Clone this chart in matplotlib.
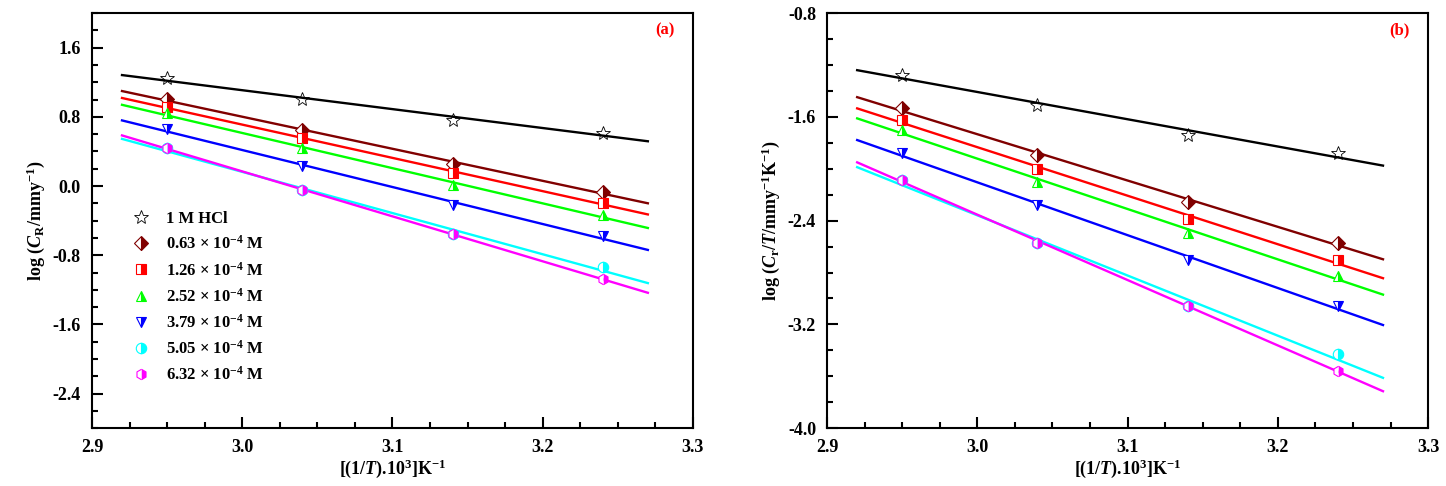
import matplotlib
matplotlib.use("Agg")
import matplotlib.pyplot as plt
from matplotlib.ticker import MultipleLocator, FormatStrFormatter
import numpy as np

plt.rcParams['font.family'] = ['Liberation Serif', 'DejaVu Serif']
plt.rcParams['font.weight'] = 'bold'
plt.rcParams['axes.labelweight'] = 'bold'
plt.rcParams['mathtext.fontset'] = 'custom'
plt.rcParams['mathtext.rm'] = 'Liberation Serif:bold'
plt.rcParams['mathtext.it'] = 'Liberation Serif:bold:italic'
plt.rcParams['mathtext.bf'] = 'Liberation Serif:bold'
plt.rcParams['axes.unicode_minus'] = False

# 1/T * 10^3 (K^-1)
inv_t = [2.95, 3.04, 3.14, 3.24]
fit_range = [2.92, 3.27]

labels = ['1 M HCl',
          r'0.63 $\times$ 10$^{-4}$ M',
          r'1.26 $\times$ 10$^{-4}$ M',
          r'2.52 $\times$ 10$^{-4}$ M',
          r'3.79 $\times$ 10$^{-4}$ M',
          r'5.05 $\times$ 10$^{-4}$ M',
          r'6.32 $\times$ 10$^{-4}$ M']
colors = ['black', '#800000', 'red', '#00ff00', 'blue', 'cyan', 'magenta']
markers = ['*', 'D', 's', '^', 'v', 'o', 'h']

# (a) log CR
log_cr = [
    [1.245, 1.002, 0.762, 0.616],
    [1.002, 0.647, 0.254, -0.067],
    [0.916, 0.551, 0.146, -0.194],
    [0.840, 0.435, 0.011, -0.336],
    [0.655, 0.230, -0.221, -0.580],
    [0.435, -0.047, -0.556, -0.938],
    [0.435, -0.047, -0.556, -1.077],
]

# (b) log CR/T
log_cr_t = [
    [-1.278, -1.509, -1.741, -1.882],
    [-1.535, -1.895, -2.255, -2.571],
    [-1.625, -1.998, -2.391, -2.705],
    [-1.702, -2.101, -2.494, -2.828],
    [-1.882, -2.280, -2.705, -3.059],
    [-2.088, -2.576, -3.059, -3.430],
    [-2.088, -2.576, -3.059, -3.558],
]

fig = plt.figure(figsize=(14.46, 4.86), dpi=100)
ax1 = fig.add_axes([0.0636, 0.119, 0.4156, 0.854])
ax2 = fig.add_axes([0.572, 0.119, 0.4156, 0.854])

xf = np.array(fit_range)
for ax, data in ((ax1, log_cr), (ax2, log_cr_t)):
    for i, y in enumerate(data):
        c = colors[i]
        k, b = np.polyfit(inv_t, y, 1)
        ax.plot(xf, k * xf + b, color=c, lw=1.7, zorder=2)
        if i == 0:
            ax.plot(inv_t, y, ls='none', marker='*', ms=10, mfc='none',
                    mec='black', mew=0.6, label=labels[i], zorder=3)
        else:
            ax.plot(inv_t, y, ls='none', marker=markers[i], ms=7.5,
                    fillstyle='right', mfc=c, mec=c, mfcalt='white',
                    mew=0.8, label=labels[i], zorder=3)

    ax.set_xlim(2.9, 3.3)
    ax.xaxis.set_major_locator(MultipleLocator(0.1))
    ax.xaxis.set_minor_locator(MultipleLocator(0.025))
    ax.yaxis.set_major_locator(MultipleLocator(0.8))
    ax.yaxis.set_minor_locator(MultipleLocator(0.2))
    ax.tick_params(which='both', direction='in', top=False, right=False,
                   width=1.5, labelsize=13, pad=8)
    ax.tick_params(which='major', length=8)
    ax.tick_params(which='minor', length=4.5)
    for s in ax.spines.values():
        s.set_linewidth(1.5)
    ax.xaxis.set_major_formatter(FormatStrFormatter('%.1f'))
    ax.yaxis.set_major_formatter(FormatStrFormatter('%.1f'))
    ax.set_xlabel(r'[(1/$\mathit{T}$).10$^{3}$]K$^{-1}$', fontsize=13,
                  labelpad=1)

ax1.set_ylim(-2.8, 2.0)
ax2.set_ylim(-4.0, -0.8)

ax1.set_ylabel(r'log ($\mathit{C}_{\mathrm{R}}$/mmy$^{-1}$)', fontsize=13)
ax2.set_ylabel(r'log ($\mathit{C}_{\mathrm{r}}$/$\mathit{T}$/mmy$^{-1}$K$^{-1}$)',
               fontsize=13)

ax1.text(0.953, 0.958, '(a)', transform=ax1.transAxes, color='red',
         fontsize=12, fontweight='bold', ha='center', va='center')
ax2.text(0.953, 0.958, '(b)', transform=ax2.transAxes, color='red',
         fontsize=12, fontweight='bold', ha='center', va='center')

ax1.legend(loc='upper left', bbox_to_anchor=(0.04, 0.56), frameon=False,
           fontsize=12, handlelength=1.2, handletextpad=0.9,
           labelspacing=0.5, numpoints=1)

fig.savefig('out.png', dpi=100)
